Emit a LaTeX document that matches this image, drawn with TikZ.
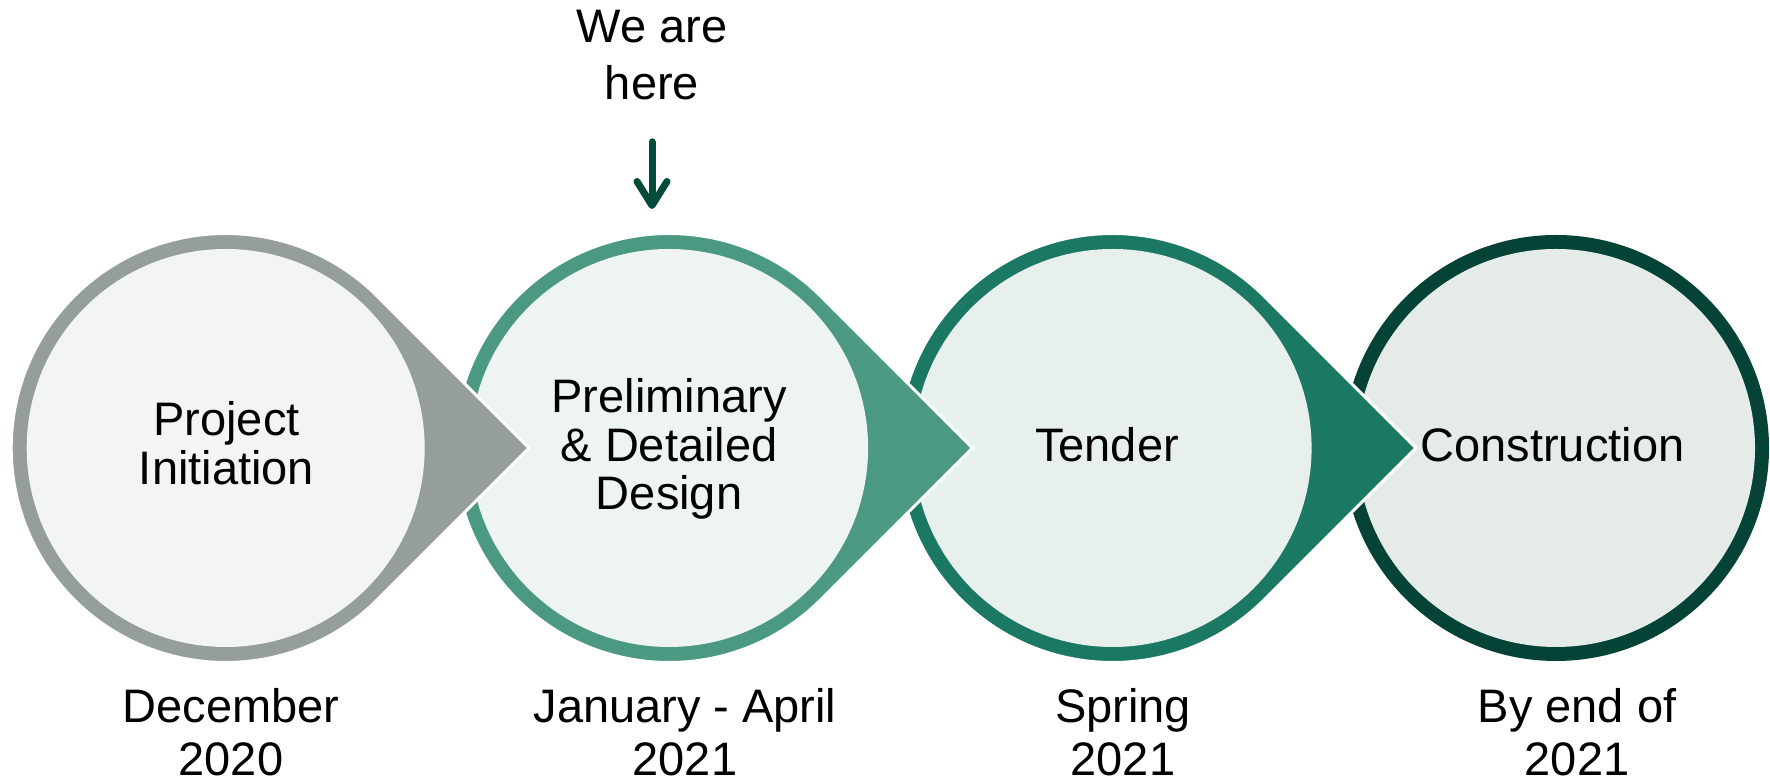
\documentclass[tikz,border=0pt]{standalone}
\usepackage{fontspec}
\setmainfont{Liberation Sans}
\usetikzlibrary{positioning, arrows.meta}
\definecolor{ringA}{HTML}{959E9A}
\definecolor{fillA}{HTML}{F3F5F4}
\definecolor{ringB}{HTML}{4B9982}
\definecolor{fillB}{HTML}{EDF4F2}
\definecolor{ringC}{HTML}{1B7862}
\definecolor{fillC}{HTML}{E8F0EE}
\definecolor{ringD}{HTML}{044335}
\definecolor{fillD}{HTML}{E4EBE9}
\definecolor{marker}{HTML}{034B3B}

\begin{document}
\begin{tikzpicture}[x = 1pt, y = 1pt,
    drop/.style = { draw = white, line width = 3pt },
    stage/.style = { font = \fontsize{47}{48.5}\selectfont, align = center, inner sep = 0pt },
    when/.style = { font = \fontsize{47}{53}\selectfont, align = center, inner sep = 0pt },
    pointer/.style = { draw = marker, line width = 7pt, line cap = round,
      -{Straight Barb[length = 24pt, width = 30pt, round]} }]
  \useasboundingbox (0,0) rectangle (1770,783);
  \coordinate (c1) at (225.7,335);
  \coordinate (c2) at (669.1,335);
  \coordinate (c3) at (1112.6,335);
  \coordinate (c4) at (1556,335);

  \fill[ringD] (c4) circle[radius = 213];
  \fill[fillD] (c4) circle[radius = 199];

  \filldraw[drop, fill = ringC] (c3) ++(45:214.5) arc[start angle = 45, end angle = 315, radius = 214.5]
    -- ++(151.7,151.7) -- cycle;
  \fill[fillC] (c3) circle[radius = 199];

  \filldraw[drop, fill = ringB] (c2) ++(45:214.5) arc[start angle = 45, end angle = 315, radius = 214.5]
    -- ++(151.7,151.7) -- cycle;
  \fill[fillB] (c2) circle[radius = 199];

  \filldraw[drop, fill = ringA] (c1) ++(45:214.5) arc[start angle = 45, end angle = 315, radius = 214.5]
    -- ++(151.7,151.7) -- cycle;
  \fill[fillA] (c1) circle[radius = 199];

  \node[stage] (init) at (226.5,340) { Project \\ Initiation };
  \node[stage] (design) at (669.1,334) { Preliminary \\ \& Detailed \\ Design };
  \node[stage] (tender) at (1113.5,338.5) { Tender };
  \node[stage] (build) at (1559,338.5) { Construction };

  \node[when] (dec) at (231,50.5) { December \\ 2020 };
  \node[when] (jan) at (685,50.5) { January - April \\ 2021 };
  \node[when] (spring) at (1123,50.5) { Spring \\ 2021 };
  \node[when] (byend) at (1577,50.5) { By end of \\ 2021 };

  \node[font = \fontsize{47}{57}\selectfont, align = center, inner sep = 0pt] (here) at (652,728.3) { We are \\ here };
  \coordinate (spot) at (652,574);
  \draw[pointer, shorten <= 42pt] (here) -- (spot);
\end{tikzpicture}
\end{document}
